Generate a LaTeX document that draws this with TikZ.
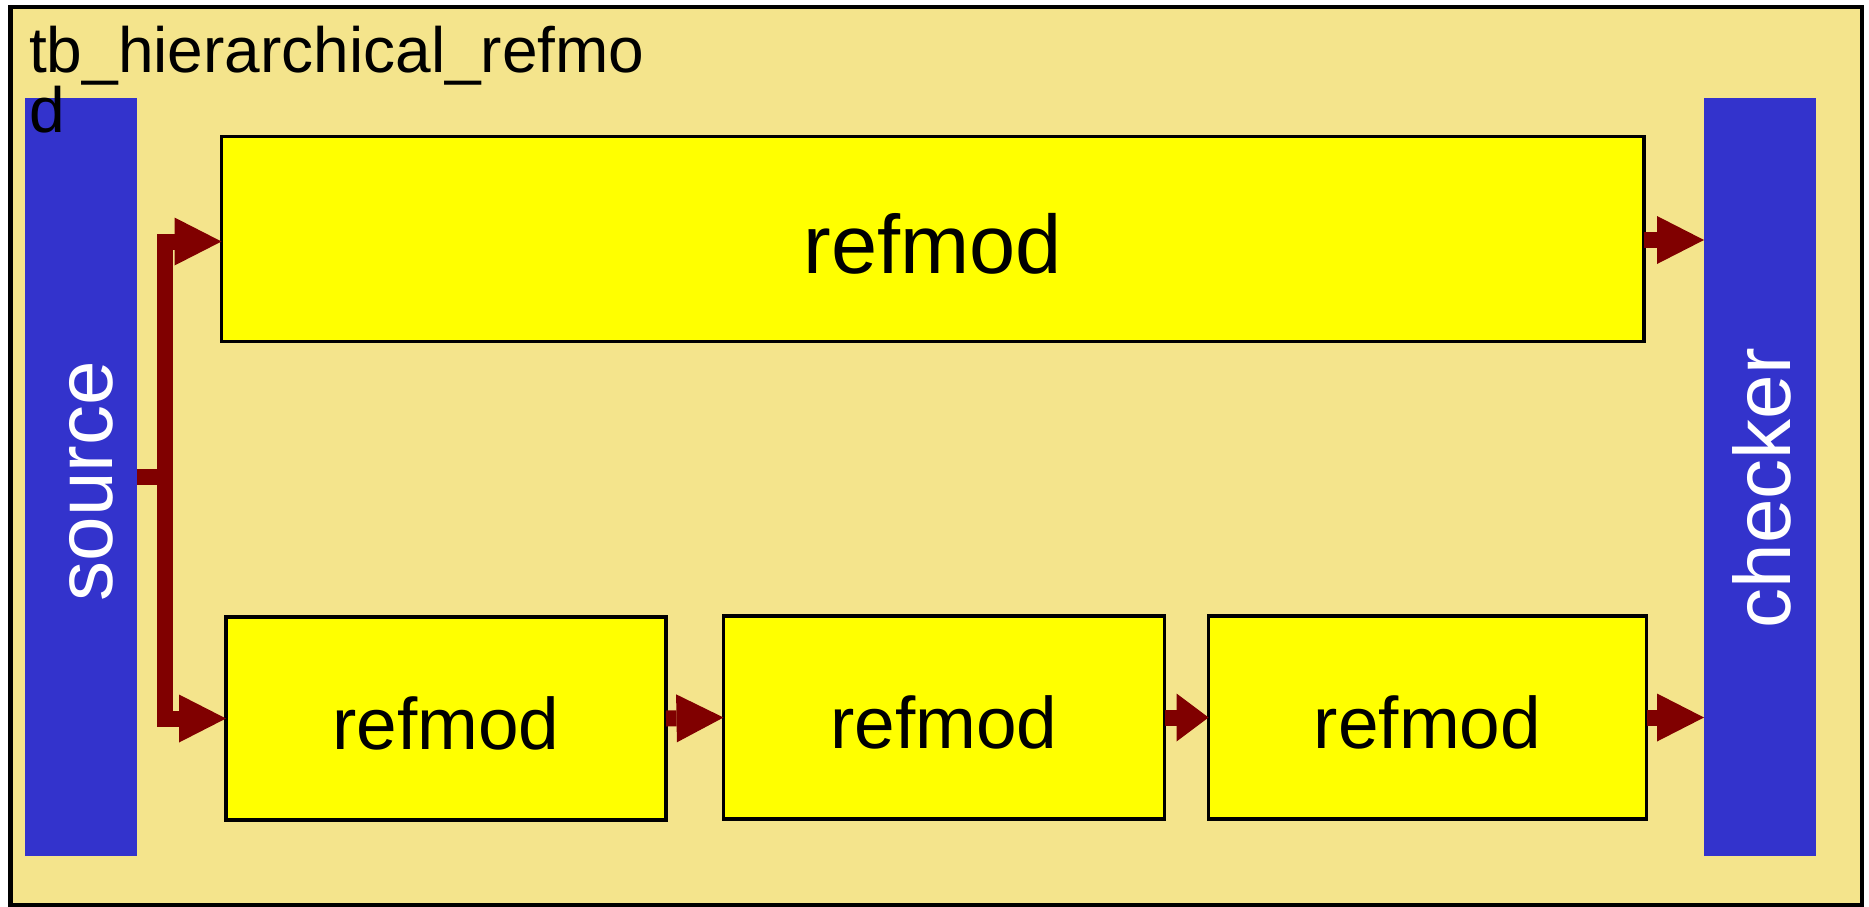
\documentclass[tikz,border=0pt]{standalone}
\usepackage{fontspec}
\setmainfont{Liberation Sans}
\usetikzlibrary{arrows.meta}
\definecolor{framefill}{RGB}{244,228,140}
\definecolor{barblue}{RGB}{51,51,204}
\definecolor{wirered}{RGB}{128,0,0}
\definecolor{boxyellow}{RGB}{255,255,0}
\begin{document}
\begin{tikzpicture}[x=1pt,y=-1pt,
  frame/.style={fill=framefill, draw=black, line width=4.5pt, inner sep=0pt, outer sep=0pt},
  bar/.style={fill=barblue, draw=none, inner sep=0pt, outer sep=0pt},
  modbox/.style={fill=boxyellow, draw=black, line width=3.5pt, inner sep=0pt, outer sep=0pt},
  bigmod/.style={modbox, font=\fontsize{83}{83}\selectfont, text height=69.5pt, text depth=0pt},
  smallmod/.style={modbox, minimum height=203pt, font=\fontsize{73}{73}\selectfont, text height=62pt, text depth=0pt},
  barlabel/.style={text=white, font=\fontsize{80}{80}\selectfont, rotate=90, anchor=base, inner sep=0pt},
  wire/.style={draw=wirered, line width=16pt},
  flow/.style={wire, -{Triangle[length=47pt, width=48pt, line width=0pt]}},
  shortflow/.style={wire, -{Triangle[length=32pt, width=48pt, line width=0pt]}},
]
\useasboundingbox (0,0) rectangle (1869,907);

% testbench frame
\node[frame, minimum width=1851.5pt, minimum height=898pt] (tb) at (936.25,456) {};

% source and checker bars
\node[bar, minimum width=112pt, minimum height=758pt] (source) at (81,477) {};
\node[bar, minimum width=112pt, minimum height=758pt] (checker) at (1760,477) {};

% reference model blocks
\node[bigmod, minimum width=1422.5pt, minimum height=205pt] (top) at (932.75,239) {refmod};
\node[smallmod, minimum width=440pt] (b1) at (446,718.5) {refmod};
\node[smallmod, minimum width=441pt] (b2) at (944,717.5) {refmod};
\node[smallmod, minimum width=438pt] (b3) at (1427.5,717.5) {refmod};

% bar labels
\node[barlabel] (sourcelabel) at (112,481) {source};
\node[barlabel] (checkerlabel) at (1790,488) {checker};

% connections
\coordinate (split) at (165,477);
\draw[wire] (source.east) -- (split);
\draw[flow] (split) |- ([yshift=-2.5pt]top.west);
\draw[flow] (split) |- (b1.west);
\draw[flow] ([yshift=-1pt]top.east) -- ([yshift=-1pt]top.east -| checker.west);
\draw[flow] (b1.east) -- (b2.west);
\draw[shortflow] (b2.east) -- (b3.west);
\draw[flow] (b3.east) -- (b3.east -| checker.west);

% testbench name
\node[anchor=north west, inner sep=0pt, align=left, font=\fontsize{64}{58}\selectfont] (title) at (29,26) {tb\_hierarchical\_refmo\\d};
\end{tikzpicture}
\end{document}
